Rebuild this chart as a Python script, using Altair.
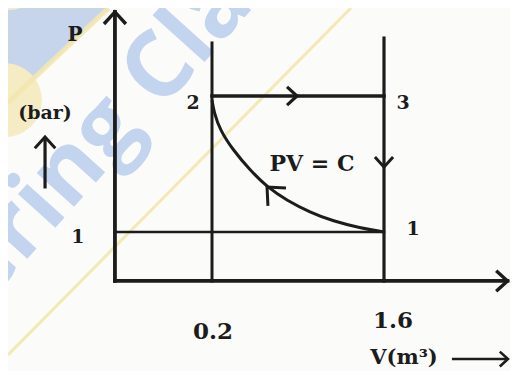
import altair as alt
import pandas as pd

# ---------------- diagram values (schematic P-V diagram) ----------------
state_names = ["1", "2", "3"]
state_V = [1.6, 0.2, 1.6]
state_P = [1.0, 2.0, 2.0]

V_ticks = [0.2, 1.6]
V_tick_labels = ["0.2", "1.6"]
P_ticks = [1.0]
P_tick_labels = ["1"]

# PV = C curve (schematic)
curve_V = [0.2, 0.216, 0.265, 0.371, 0.509, 0.648, 0.810, 0.998, 1.185, 1.405, 1.6]
curve_P = [1.97, 1.882, 1.75, 1.603, 1.456, 1.331, 1.232, 1.145, 1.080, 1.030, 1.0]

# schematic frame, in diagram units
origin_V = -0.59
origin_P = 0.64
axis_end_V = 2.605
axis_top_P = 2.618
top_02_P = 2.39
top_16_P = 2.426

domain_V = [-1.4605, 2.6256]
domain_P = [-0.022, 2.647]

# watermark decoration (diagram units)
wm_text = "ering Cla"
wm_V, wm_P = -0.711, 1.706

INK = "#1c1c1c"
SERIF = "DejaVu Serif"

xs = alt.Scale(domain=domain_V, nice=False, zero=False)
ys = alt.Scale(domain=domain_P, nice=False, zero=False)


def X(f="V"):
    return alt.X(f"{f}:Q", scale=xs, axis=None)


def Y(f="P"):
    return alt.Y(f"{f}:Q", scale=ys, axis=None)


# ---------------- background watermark ----------------
blue_area = alt.Chart(pd.DataFrame({
    "V": [domain_V[0], -0.6424], "P": [1.952, domain_P[1]], "P2": [domain_P[1], domain_P[1]]
})).mark_area(color="#c6d5ec", opacity=1).encode(x=X(), y=Y(), y2="P2:Q")

yellow_dots = alt.Chart(pd.DataFrame({
    "V": [-1.444, -1.485], "P": [2.853, 1.97], "s": [3600, 5476]
})).mark_point(shape="circle", filled=True, color="#f5ecc3", opacity=1).encode(
    x=X(), y=Y(), size=alt.Size("s:Q", scale=None)
)

yellow_lines = alt.Chart(pd.DataFrame({
    "V": [-0.6424, 1.331], "P": [domain_P[1], domain_P[1]],
    "V2": [domain_V[0], domain_V[0]], "P2": [1.952, 0.096], "w": [5, 3]
})).mark_rule(color="#f3e6ad", opacity=0.9).encode(
    x=X(), y=Y(), x2="V2:Q", y2="P2:Q", strokeWidth=alt.StrokeWidth("w:Q", scale=None)
)

watermark = alt.Chart(pd.DataFrame({"V": [wm_V], "P": [wm_P], "t": [wm_text]})).mark_text(
    font="Open Sans", fontWeight="bold", fontSize=92, angle=312, color="#c3d4ee",
    align="center", baseline="middle", opacity=1
).encode(x=X(), y=Y(), text="t:N")

# ---------------- lines ----------------
segs = pd.DataFrame({
    "V":  [origin_V, origin_V, 0.2, 1.6, state_V[1], origin_V],
    "P":  [origin_P, origin_P, origin_P, origin_P, state_P[1], P_ticks[0]],
    "V2": [origin_V, axis_end_V, 0.2, 1.6, state_V[2], state_V[0]],
    "P2": [axis_top_P, origin_P, top_02_P, top_16_P, state_P[2], P_ticks[0]],
    "w":  [3.8, 3.8, 3.0, 3.2, 3.6, 2.6],
})
rules = alt.Chart(segs).mark_rule(color=INK, strokeCap="square").encode(
    x=X(), y=Y(), x2="V2:Q", y2="P2:Q", strokeWidth=alt.StrokeWidth("w:Q", scale=None)
)

curve = alt.Chart(pd.DataFrame({"V": curve_V, "P": curve_P, "o": range(len(curve_V))})).mark_line(
    color=INK, strokeWidth=3, interpolate="basis"
).encode(x=X(), y=Y(), order="o:Q")

# small arrows for the P unit and V unit labels
unit_arrows = alt.Chart(pd.DataFrame({
    "V": [-1.159, 2.153], "P": [1.320, 0.066], "V2": [-1.159, 2.600], "P2": [1.690, 0.066], "w": [3.2, 2.4]
})).mark_rule(color=INK).encode(
    x=X(), y=Y(), x2="V2:Q", y2="P2:Q", strokeWidth=alt.StrokeWidth("w:Q", scale=None)
)

# ---------------- arrow heads (chevrons) ----------------
chev = "M-1.1,-1L0,0L-1.1,1"
heads = pd.DataFrame({
    "V": [origin_V, axis_end_V, 0.892, 1.6, 0.648, -1.159, 2.609],
    "P": [axis_top_P, origin_P, 2.0, 1.478, 1.331, 1.699, 0.066],
    "ang": [270, 0, 0, 90, 225, 270, 0],
    "sz": [480, 420, 330, 330, 650, 420, 220],
    "w": [3.4, 3.4, 3.2, 3.0, 3.0, 3.0, 2.6],
})
arrowheads = alt.Chart(heads).mark_point(shape=chev, filled=False, color=INK, opacity=1).encode(
    x=X(), y=Y(),
    angle=alt.Angle("ang:Q", scale=None),
    size=alt.Size("sz:Q", scale=None),
    strokeWidth=alt.StrokeWidth("w:Q", scale=None),
)


# ---------------- text ----------------
def label(text, V, P, dx, dy, size):
    return alt.Chart(pd.DataFrame({"V": [V], "P": [P], "t": [text]})).mark_text(
        font=SERIF, fontWeight="bold", fontSize=size, color=INK,
        align="center", baseline="middle", dx=dx, dy=dy
    ).encode(x=X(), y=Y(), text="t:N")


texts = [
    label("P", origin_V, axis_top_P, -40, 23, 20),
    label("(bar)", origin_V, state_P[1], -70, 17, 19),
    label(P_tick_labels[0], origin_V, P_ticks[0], -37, 5, 19),
    label(state_names[1], state_V[1], state_P[1], -19, 7, 19),
    label(state_names[2], state_V[2], state_P[2], 19, 7, 19),
    label(state_names[0], state_V[0], state_P[0], 29, -3, 19),
    label("PV = C", state_V[2], state_P[2], -72, 68, 22),
    label(V_tick_labels[0], V_ticks[0], origin_P, 1, 51, 23),
    label(V_tick_labels[1], V_ticks[1], origin_P, 9, 40, 23),
    label("V(m³)", V_ticks[1], origin_P, 20, 77, 21),
]

chart = alt.layer(
    blue_area, yellow_dots, yellow_lines, watermark,
    rules, curve, unit_arrows, arrowheads, *texts
).properties(
    width=502, height=363, background="#fbfbfa", padding=0,
    autosize=alt.AutoSizeParams(type="none")
).configure_view(stroke=None)

chart.save("out.html", embed_options={"renderer": "svg", "actions": False})
